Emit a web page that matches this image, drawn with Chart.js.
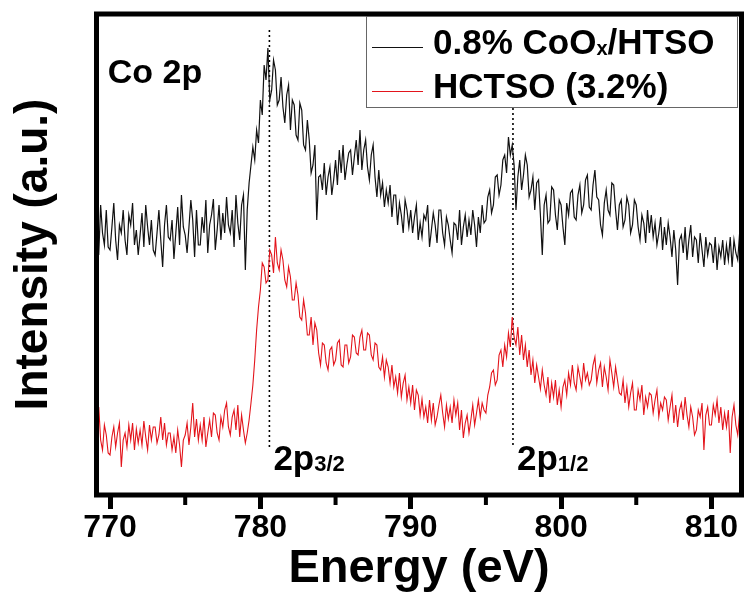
<!DOCTYPE html>
<html>
<head>
<meta charset="utf-8">
<script src="https://cdn.jsdelivr.net/npm/chart.js@4.4.1/dist/chart.umd.min.js"></script>
<style>
	body { margin: 0; background: #fff; }
	canvas { display: block; }
</style>
</head>
<body>
<canvas id="chart" width="745" height="599"></canvas>
<script>
// binding energy grid (eV), one line per eV
const energy = [
	769, 769.125, 769.25, 769.375, 769.5, 769.625, 769.75, 769.875,
	770, 770.125, 770.25, 770.375, 770.5, 770.625, 770.75, 770.875,
	771, 771.125, 771.25, 771.375, 771.5, 771.625, 771.75, 771.875,
	772, 772.125, 772.25, 772.375, 772.5, 772.625, 772.75, 772.875,
	773, 773.125, 773.25, 773.375, 773.5, 773.625, 773.75, 773.875,
	774, 774.125, 774.25, 774.375, 774.5, 774.625, 774.75, 774.875,
	775, 775.125, 775.25, 775.375, 775.5, 775.625, 775.75, 775.875,
	776, 776.125, 776.25, 776.375, 776.5, 776.625, 776.75, 776.875,
	777, 777.125, 777.25, 777.375, 777.5, 777.625, 777.75, 777.875,
	778, 778.125, 778.25, 778.375, 778.5, 778.625, 778.75, 778.875,
	779, 779.125, 779.25, 779.375, 779.5, 779.625, 779.75, 779.875,
	780, 780.125, 780.25, 780.375, 780.5, 780.625, 780.75, 780.875,
	781, 781.125, 781.25, 781.375, 781.5, 781.625, 781.75, 781.875,
	782, 782.125, 782.25, 782.375, 782.5, 782.625, 782.75, 782.875,
	783, 783.125, 783.25, 783.375, 783.5, 783.625, 783.75, 783.875,
	784, 784.125, 784.25, 784.375, 784.5, 784.625, 784.75, 784.875,
	785, 785.125, 785.25, 785.375, 785.5, 785.625, 785.75, 785.875,
	786, 786.125, 786.25, 786.375, 786.5, 786.625, 786.75, 786.875,
	787, 787.125, 787.25, 787.375, 787.5, 787.625, 787.75, 787.875,
	788, 788.125, 788.25, 788.375, 788.5, 788.625, 788.75, 788.875,
	789, 789.125, 789.25, 789.375, 789.5, 789.625, 789.75, 789.875,
	790, 790.125, 790.25, 790.375, 790.5, 790.625, 790.75, 790.875,
	791, 791.125, 791.25, 791.375, 791.5, 791.625, 791.75, 791.875,
	792, 792.125, 792.25, 792.375, 792.5, 792.625, 792.75, 792.875,
	793, 793.125, 793.25, 793.375, 793.5, 793.625, 793.75, 793.875,
	794, 794.125, 794.25, 794.375, 794.5, 794.625, 794.75, 794.875,
	795, 795.125, 795.25, 795.375, 795.5, 795.625, 795.75, 795.875,
	796, 796.125, 796.25, 796.375, 796.5, 796.625, 796.75, 796.875,
	797, 797.125, 797.25, 797.375, 797.5, 797.625, 797.75, 797.875,
	798, 798.125, 798.25, 798.375, 798.5, 798.625, 798.75, 798.875,
	799, 799.125, 799.25, 799.375, 799.5, 799.625, 799.75, 799.875,
	800, 800.125, 800.25, 800.375, 800.5, 800.625, 800.75, 800.875,
	801, 801.125, 801.25, 801.375, 801.5, 801.625, 801.75, 801.875,
	802, 802.125, 802.25, 802.375, 802.5, 802.625, 802.75, 802.875,
	803, 803.125, 803.25, 803.375, 803.5, 803.625, 803.75, 803.875,
	804, 804.125, 804.25, 804.375, 804.5, 804.625, 804.75, 804.875,
	805, 805.125, 805.25, 805.375, 805.5, 805.625, 805.75, 805.875,
	806, 806.125, 806.25, 806.375, 806.5, 806.625, 806.75, 806.875,
	807, 807.125, 807.25, 807.375, 807.5, 807.625, 807.75, 807.875,
	808, 808.125, 808.25, 808.375, 808.5, 808.625, 808.75, 808.875,
	809, 809.125, 809.25, 809.375, 809.5, 809.625, 809.75, 809.875,
	810, 810.125, 810.25, 810.375, 810.5, 810.625, 810.75, 810.875,
	811, 811.125, 811.25, 811.375, 811.5, 811.625, 811.75, 811.875,
	812,
];

// 0.8% CoOx/HTSO (upper trace)
const cooxHtso = [
	260, 275, 240, 290, 262, 250, 285, 248,
	245, 268, 292, 255, 235, 270, 262, 285,
	255, 240, 280, 270, 292, 250, 265, 240,
	260, 282, 248, 290, 268, 250, 275, 245,
	240, 262, 285, 255, 228, 270, 290, 258,
	255, 275, 236, 262, 288, 250, 300, 268,
	260, 242, 268, 295, 275, 238, 285, 250,
	250, 278, 262, 295, 242, 270, 280, 296,
	245, 265, 290, 255, 282, 262, 298, 270,
	262, 285, 248, 300, 272, 255, 290, 300,
	225, 285, 312, 330, 348, 335, 365, 352,
	395, 380, 430, 415, 447, 395, 405, 435,
	425, 390, 395, 418, 388, 372, 400, 410,
	365, 395, 390, 360, 355, 392, 385, 350,
	345, 375, 355, 322, 330, 350, 275, 318,
	320, 305, 332, 300, 318, 328, 300, 315,
	335, 310, 345, 322, 350, 315, 330, 342,
	345, 320, 338, 355, 330, 365, 325, 345,
	355, 328, 315, 340, 350, 318, 298, 325,
	300, 312, 288, 305, 292, 310, 278, 300,
	300, 270, 292, 280, 262, 295, 285, 268,
	285, 262, 278, 290, 255, 272, 258, 280,
	275, 290, 248, 265, 282, 270, 252, 285,
	285, 262, 250, 278, 270, 255, 242, 272,
	270, 255, 285, 250, 268, 280, 258, 275,
	260, 285, 270, 248, 278, 262, 290, 272,
	275, 298, 305, 282, 290, 318, 320, 300,
	310, 335, 340, 322, 358, 340, 350, 330,
	285, 318, 335, 305, 320, 340, 330, 298,
	305, 318, 285, 312, 315, 280, 240, 290,
	300, 272, 275, 308, 305, 280, 265, 295,
	290, 268, 250, 292, 280, 302, 305, 278,
	275, 300, 310, 282, 290, 315, 320, 288,
	285, 310, 325, 298, 295, 270, 260, 292,
	305, 285, 280, 312, 310, 285, 265, 290,
	295, 268, 275, 298, 290, 262, 270, 295,
	290, 268, 255, 280, 272, 252, 285, 262,
	280, 258, 272, 250, 262, 278, 245, 268,
	250, 272, 258, 238, 265, 245, 210, 255,
	260, 242, 268, 235, 255, 270, 238, 258,
	255, 232, 262, 245, 228, 258, 240, 252,
	250, 232, 258, 225, 248, 238, 255, 230,
	250, 235, 258, 228, 255, 242, 235, 262,
	250,
];

// HCTSO (3.2%) (lower trace)
const hctso = [
	50, 62, 88, 55, 45, 70, 60, 42,
	40, 58, 68, 48, 62, 72, 28, 55,
	62, 48, 70, 55, 72, 45, 66, 52,
	65, 50, 74, 58, 45, 70, 55, 68,
	68, 52, 60, 78, 55, 72, 50, 62,
	62, 45, 58, 42, 65, 50, 28, 55,
	60, 72, 50, 68, 92, 58, 76, 55,
	70, 55, 78, 48, 62, 75, 58, 82,
	80, 62, 55, 78, 68, 85, 92, 68,
	60, 78, 85, 65, 90, 58, 80, 65,
	52, 62, 75, 92, 110, 135, 165, 188,
	205, 232, 228, 212, 215, 245, 240, 222,
	258, 232, 225, 245, 235, 215, 208, 228,
	218, 195, 195, 212, 200, 178, 175, 195,
	182, 160, 160, 178, 150, 172, 165, 142,
	130, 152, 150, 132, 125, 145, 148, 130,
	135, 152, 155, 130, 128, 150, 150, 132,
	138, 160, 158, 142, 140, 158, 165, 145,
	145, 162, 160, 140, 135, 152, 150, 128,
	125, 138, 118, 135, 128, 112, 130, 108,
	118, 102, 122, 98, 112, 120, 95, 108,
	92, 110, 85, 105, 100, 80, 96, 78,
	88, 72, 95, 75, 92, 70, 78, 90,
	100, 82, 68, 90, 76, 88, 72, 95,
	80, 92, 65, 85, 57, 72, 80, 62,
	75, 90, 70, 82, 95, 78, 92, 85,
	82, 100, 108, 122, 125, 110, 115, 140,
	145, 128, 150, 138, 162, 148, 178, 158,
	150, 168, 140, 160, 135, 150, 128, 145,
	120, 135, 112, 130, 118, 106, 125, 110,
	100, 118, 92, 112, 98, 115, 90, 105,
	88, 108, 115, 100, 122, 110, 130, 112,
	105, 128, 118, 108, 132, 115, 122, 110,
	115, 130, 138, 112, 125, 132, 108, 128,
	118, 105, 135, 122, 108, 128, 115, 102,
	100, 115, 92, 108, 88, 102, 112, 85,
	85, 105, 95, 110, 80, 98, 88, 102,
	100, 82, 95, 105, 78, 92, 85, 98,
	95, 75, 88, 100, 72, 90, 68, 85,
	92, 75, 98, 80, 68, 88, 78, 60,
	65, 85, 78, 92, 45, 80, 88, 70,
	70, 90, 80, 95, 72, 88, 65, 82,
	68, 85, 42, 78, 90, 70, 60, 82,
	75,
];

// dotted peak markers: energy, top and bottom intensity
const peakEnergy = [780.6, 796.8];
const peakTop = [465, 387];
const peakBottom = [48, 48];
const peakLabels = [["2p", "3/2"], ["2p", "1/2"]];

// legend text, odd entries are subscripts
const legendLabels = [["0.8% CoO", "x", "/HTSO"], ["HCTSO (3.2%)"]];
const minorTicks = [775, 785, 795, 805];

const BOLD = "'Liberation Sans', Arial, sans-serif";

const drawRich = (ctx, parts, x, y, size, subSize) => {
	let cx = x;
	parts.forEach((text, i) => {
		const sub = i % 2 === 1;
		ctx.font = `bold ${sub ? subSize : size}px ${BOLD}`;
		ctx.fillText(text, cx, sub ? y + 1 : y);
		cx += ctx.measureText(text).width;
	});
};

const annotations = {
	id: "annotations",
	afterDatasetsDraw(chart) {
		const { ctx, chartArea, scales } = chart;
		const { x, y } = scales;
		ctx.save();
		ctx.strokeStyle = "#000";
		ctx.lineWidth = 5;
		ctx.strokeRect(chartArea.left, chartArea.top, chartArea.right - chartArea.left, chartArea.bottom - chartArea.top);

		ctx.lineWidth = 4;
		minorTicks.forEach((v) => {
			const px = x.getPixelForValue(v);
			ctx.beginPath();
			ctx.moveTo(px, chartArea.bottom);
			ctx.lineTo(px, chartArea.bottom + 10);
			ctx.stroke();
		});

		ctx.fillStyle = "#000";
		ctx.textBaseline = "alphabetic";
		ctx.textAlign = "left";
		ctx.font = `bold 34px ${BOLD}`;
		ctx.fillText("Co 2p", x.getPixelForValue(769.85), y.getPixelForValue(412));

		peakLabels.forEach((parts, i) => {
			drawRich(ctx, parts, x.getPixelForValue(peakEnergy[i]) + 4, y.getPixelForValue(25), 35, 22);
		});

		// legend box
		ctx.lineWidth = 1;
		ctx.strokeStyle = "#666";
		ctx.fillStyle = "#fff";
		ctx.fillRect(366.5, 16.5, 371, 91);
		ctx.strokeRect(366.5, 16.5, 371, 91);
		const rows = [47, 91];
		chart.data.datasets.slice(0, 2).forEach((ds, i) => {
			ctx.strokeStyle = ds.borderColor;
			ctx.lineWidth = 1;
			ctx.beginPath();
			ctx.moveTo(372, rows[i] + 0.5);
			ctx.lineTo(423, rows[i] + 0.5);
			ctx.stroke();
			ctx.fillStyle = "#000";
			drawRich(ctx, legendLabels[i], 433, rows[i] + 7, 35, 20);
		});
		ctx.restore();
	},
};

const toPoints = (values) => values.map((v, i) => ({ x: energy[i], y: v }));

window.onload = () => {
	const canvas = document.getElementById("chart");
	const datasets = [
		{
			label: legendLabels[0].join(""),
			data: toPoints(cooxHtso),
			borderColor: "#111",
			borderWidth: 1.2,
		},
		{
			label: legendLabels[1].join(""),
			data: toPoints(hctso),
			borderColor: "#e3141b",
			borderWidth: 1.1,
		},
	];
	peakEnergy.forEach((e, i) => {
		datasets.push({
			label: "marker",
			data: [{ x: e, y: peakTop[i] }, { x: e, y: peakBottom[i] }],
			borderColor: "#000",
			borderWidth: 1.6,
			borderDash: [2, 3],
		});
	});

	new Chart(canvas, {
		type: "line",
		data: { datasets },
		plugins: [annotations],
		options: {
			responsive: false,
			animation: false,
			devicePixelRatio: 1,
			layout: { padding: { top: 14, right: 3.5, left: 0, bottom: 0 } },
			elements: { point: { radius: 0 }, line: { tension: 0 } },
			plugins: { legend: { display: false }, tooltip: { enabled: false } },
			scales: {
				x: {
					type: "linear",
					min: 769.1,
					max: 812,
					afterFit: (scale) => {
						scale.height = 104;
					},
					border: { display: false },
					grid: { drawOnChartArea: false, drawTicks: true, tickLength: 14, tickWidth: 5, tickColor: "#000" },
					ticks: {
						stepSize: 10,
						includeBounds: false,
						autoSkip: false,
						maxRotation: 0,
						padding: 0,
						color: "#000",
						font: { family: BOLD, size: 32, weight: "bold" },
					},
					title: {
						display: true,
						text: "Energy (eV)",
						color: "#000",
						font: { family: BOLD, size: 47, weight: "bold", lineHeight: 1 },
						padding: { top: 0, bottom: 6 },
					},
				},
				y: {
					min: 0,
					max: 481,
					afterFit: (scale) => {
						scale.width = 96.5;
					},
					border: { display: false },
					grid: { display: false },
					ticks: { display: false },
					title: {
						display: true,
						text: "Intensity (a.u.)",
						color: "#000",
						font: { family: BOLD, size: 46, weight: "bold", lineHeight: 1 },
						padding: { top: 11, bottom: 0 },
					},
				},
			},
		},
	});
};
</script>
</body>
</html>
